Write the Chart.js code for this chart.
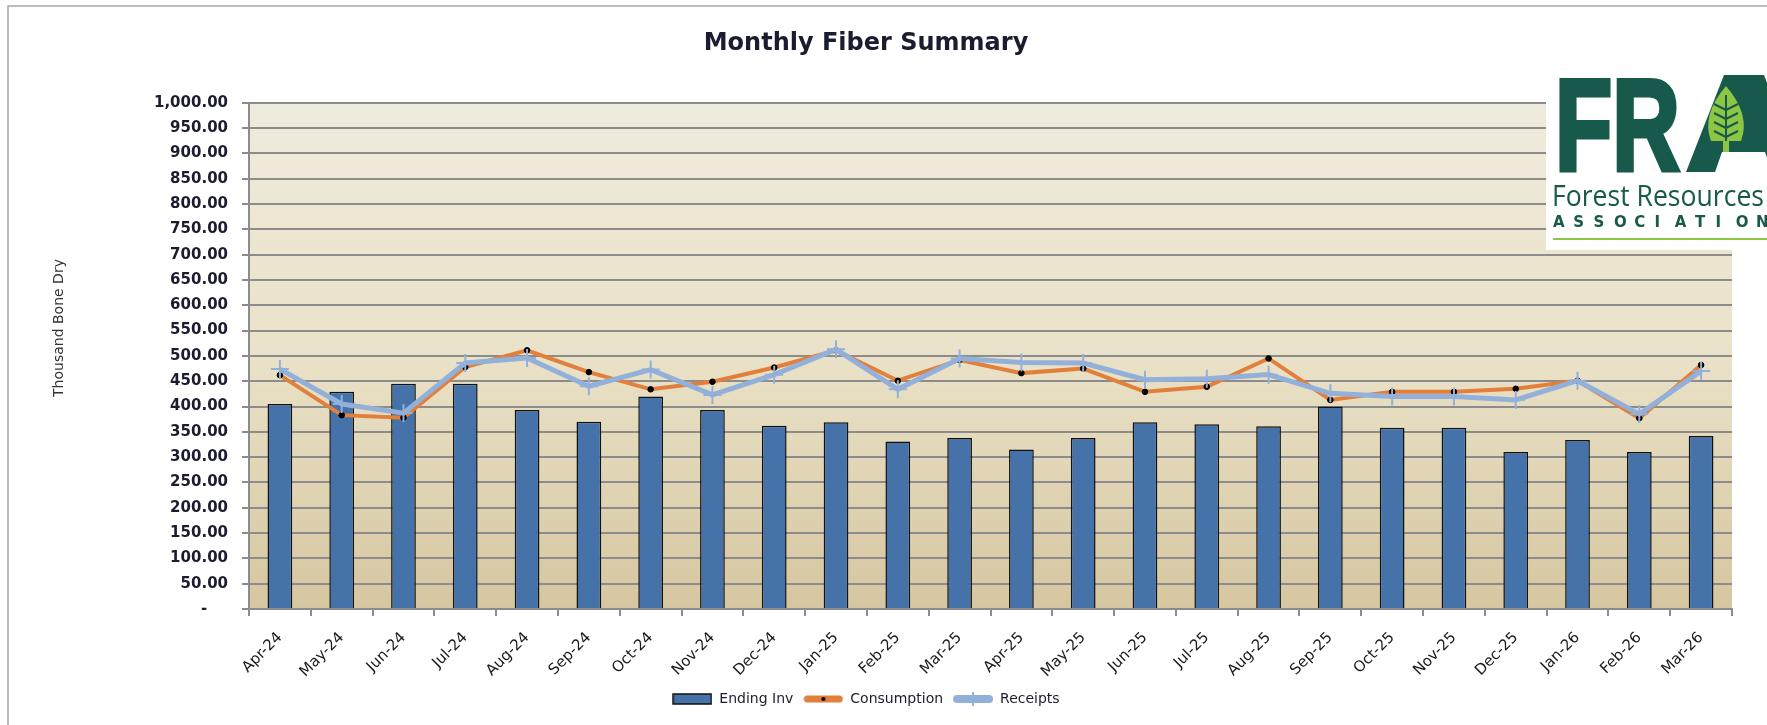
<!DOCTYPE html>
<html>
<head>
<meta charset="utf-8">
<script src="https://cdn.jsdelivr.net/npm/chart.js@4"></script>
<style>
  html, body { margin: 0; padding: 0; background: #fff; }
  #wrap { width: 1767px; height: 725px; }
</style>
</head>
<body>
<div id="wrap"><canvas id="myChart" width="1767" height="725"></canvas></div>
<script>
var months = ['Apr-24','May-24','Jun-24','Jul-24','Aug-24','Sep-24','Oct-24','Nov-24','Dec-24','Jan-25','Feb-25','Mar-25',
              'Apr-25','May-25','Jun-25','Jul-25','Aug-25','Sep-25','Oct-25','Nov-25','Dec-25','Jan-26','Feb-26','Mar-26'];
var endingInv   = [405, 429, 445, 445, 393, 370, 420, 393, 362, 369, 331, 338, 315, 338, 369, 365, 361, 400, 358, 358, 310, 334, 310, 342];
var consumption = [462, 383, 378, 478, 511, 468, 434, 449, 477, 511, 451, 492, 466, 475, 429, 439, 495, 413, 429, 429, 435, 451, 377, 482];
var receipts    = [474, 405, 387, 486, 496, 440, 473, 423, 463, 513, 434, 495, 487, 486, 453, 455, 463, 426, 420, 420, 413, 451, 385, 470];

var barBlue = '#4572A8';
var orange = '#E27F3A';
var lightBlue = '#93B0DA';
var textDark = '#1c1c30';

// little legend glyphs: line with marker
function legendGlyph(kind) {
    var c = document.createElement('canvas');
    c.width = 40; c.height = 14;
    var g = c.getContext('2d');
    if (kind === 'bar') {
        g.fillStyle = barBlue;
        g.fillRect(1, 2, 38, 10);
        g.strokeStyle = '#111';
        g.lineWidth = 1.5;
        g.strokeRect(1, 2, 38, 10);
    } else {
        g.strokeStyle = kind === 'cons' ? orange : lightBlue;
        g.lineWidth = kind === 'cons' ? 7 : 8;
        g.lineCap = 'round';
        g.beginPath(); g.moveTo(4, 7); g.lineTo(36, 7); g.stroke();
        if (kind === 'cons') {
            g.fillStyle = '#000';
            g.beginPath(); g.arc(20, 7, 2, 0, Math.PI * 2); g.fill();
        } else {
            g.strokeStyle = lightBlue; g.lineWidth = 2;
            g.beginPath(); g.moveTo(20, 0); g.lineTo(20, 14); g.stroke();
        }
    }
    return c;
}
var glyphs = [legendGlyph('bar'), legendGlyph('cons'), legendGlyph('rec')];

var decorPlugin = {
    id: 'decor',
    beforeDraw: function (chart) {
        var ctx = chart.ctx, a = chart.chartArea;
        ctx.save();
        var grad = ctx.createLinearGradient(0, a.top, 0, a.bottom);
        grad.addColorStop(0, '#EFEBDD');
        grad.addColorStop(0.5, '#EAE2C8');
        grad.addColorStop(1, '#D6C6A0');
        ctx.fillStyle = grad;
        ctx.fillRect(a.left, a.top, a.right - a.left, a.bottom - a.top);
        ctx.restore();
    },
    afterDraw: function (chart) {
        var ctx = chart.ctx;
        ctx.save();
        // outer frame
        ctx.strokeStyle = '#A6A6A6';
        ctx.lineWidth = 1.5;
        ctx.strokeRect(8, 6, 1800, 760);

        // y axis title
        ctx.fillStyle = '#333';
        ctx.font = '14px "DejaVu Sans"';
        ctx.textAlign = 'center';
        ctx.textBaseline = 'middle';
        ctx.translate(59, 328);
        ctx.rotate(-Math.PI / 2);
        ctx.fillText('Thousand Bone Dry', 0, 0);
        ctx.restore();

        // FRA logo
        ctx.save();
        ctx.fillStyle = '#fff';
        ctx.fillRect(1546, 68, 230, 182);
        var dark = '#17594A', light = '#8DC544';
        ctx.fillStyle = dark;
        ctx.strokeStyle = dark;
        ctx.lineWidth = 5;
        ctx.lineJoin = 'miter';
        ctx.textBaseline = 'alphabetic';
        ctx.textAlign = 'left';
        ctx.save();
        ctx.translate(1555, 170);
        ctx.scale(0.72, 1);
        ctx.font = 'bold 130px "Liberation Sans"';
        ctx.fillText('FR', 0, 0);
        ctx.strokeText('FR', 0, 0);
        ctx.restore();
        // A
        ctx.beginPath();
        ctx.moveTo(1686, 172); ctx.lineTo(1724, 75); ctx.lineTo(1764, 75);
        ctx.lineTo(1802, 172); ctx.lineTo(1772, 172); ctx.lineTo(1765, 152);
        ctx.lineTo(1722, 152); ctx.lineTo(1715, 172); ctx.closePath();
        ctx.fill();
        // leaf
        ctx.fillStyle = light;
        ctx.beginPath();
        ctx.moveTo(1726, 86);
        ctx.quadraticCurveTo(1751, 115, 1741, 141);
        ctx.lineTo(1711, 141);
        ctx.quadraticCurveTo(1701, 115, 1726, 86);
        ctx.fill();
        ctx.fillRect(1723, 138, 6, 14);
        ctx.strokeStyle = dark; ctx.lineWidth = 2;
        ctx.beginPath();
        ctx.moveTo(1726, 95); ctx.lineTo(1726, 141);
        for (var k = 0; k < 4; k++) {
            var yy = 104 + k * 9;
            ctx.moveTo(1726, yy + 6); ctx.lineTo(1714, yy);
            ctx.moveTo(1726, yy + 6); ctx.lineTo(1738, yy);
        }
        ctx.stroke();

        ctx.fillStyle = dark;
        ctx.font = '29px "Open Sans"';
        ctx.fillText('Forest Resources', 1552, 206, 212);
        ctx.font = 'bold 15px "DejaVu Sans"';
        var word = 'ASSOCIATION';
        for (var i = 0; i < word.length; i++) {
            ctx.fillText(word[i], 1553 + i * 20.3, 227);
        }
        ctx.strokeStyle = light; ctx.lineWidth = 2;
        ctx.beginPath(); ctx.moveTo(1553, 239); ctx.lineTo(1767, 239); ctx.stroke();
        ctx.restore();
    }
};

new Chart('myChart', {
    type: 'bar',
    data: {
        labels: months,
        datasets: [{
            type: 'bar',
            label: 'Ending Inv',
            data: endingInv,
            backgroundColor: barBlue,
            borderColor: '#111',
            borderWidth: 1.5,
            categoryPercentage: 1,
            barPercentage: 0.4,
            order: 3
        }, {
            type: 'line',
            label: 'Consumption',
            data: consumption,
            borderColor: orange,
            borderWidth: 4,
            pointRadius: 2.8,
            pointBackgroundColor: '#000',
            pointBorderColor: '#000',
            pointBorderWidth: 1,
            tension: 0,
            fill: false,
            order: 2
        }, {
            type: 'line',
            label: 'Receipts',
            data: receipts,
            borderColor: lightBlue,
            borderWidth: 5,
            pointStyle: 'cross',
            pointRadius: 9,
            pointBorderColor: lightBlue,
            pointBorderWidth: 2,
            tension: 0,
            fill: false,
            order: 1
        }]
    },
    options: {
        responsive: false,
        animation: false,
        layout: { padding: { left: 0, right: 35, top: 0, bottom: 9 } },
        plugins: {
            tooltip: { enabled: false },
            title: {
                display: true,
                text: 'Monthly Fiber Summary',
                color: textDark,
                font: { family: '"DejaVu Sans"', size: 24, weight: 'bold' },
                padding: { top: 29, bottom: 45 }
            },
            legend: {
                display: true,
                position: 'bottom',
                labels: {
                    usePointStyle: true,
                    pointStyleWidth: 40,
                    boxHeight: 14,
                    padding: 10,
                    color: textDark,
                    font: { family: '"DejaVu Sans"', size: 14 },
                    generateLabels: function (chart) {
                        return chart.data.datasets.map(function (ds, i) {
                            return { text: ds.label, pointStyle: glyphs[i], fillStyle: 'transparent',
                                     strokeStyle: 'transparent', lineWidth: 0, datasetIndex: i, fontColor: textDark };
                        });
                    }
                }
            }
        },
        scales: {
            x: {
                offset: true,
                afterFit: function (s) { s.height = 73; },
                grid: { display: true, offset: true, drawOnChartArea: false, drawTicks: true, tickLength: 7, color: '#8C8C8C', lineWidth: 2 },
                border: { display: true, color: '#8C8C8C', width: 2 },
                ticks: {
                    minRotation: 45, maxRotation: 45, autoSkip: false, padding: 13,
                    color: '#1a1a1a',
                    font: { family: '"DejaVu Sans"', size: 15 }
                }
            },
            y: {
                min: 0, max: 1000,
                afterFit: function (s) { s.width = 249; },
                grid: { color: '#8C8C8C', lineWidth: 2, tickLength: 7, drawTicks: true },
                border: { display: true, color: '#8C8C8C', width: 2 },
                ticks: {
                    stepSize: 50,
                    padding: 14,
                    color: textDark,
                    font: { family: '"DejaVu Sans"', size: 15, weight: 'bold' },
                    callback: function (v) {
                        if (v === 0) return '-    ';
                        return v.toLocaleString('en-US', { minimumFractionDigits: 2, maximumFractionDigits: 2 });
                    }
                }
            }
        }
    },
    plugins: [decorPlugin]
});
</script>
</body>
</html>
